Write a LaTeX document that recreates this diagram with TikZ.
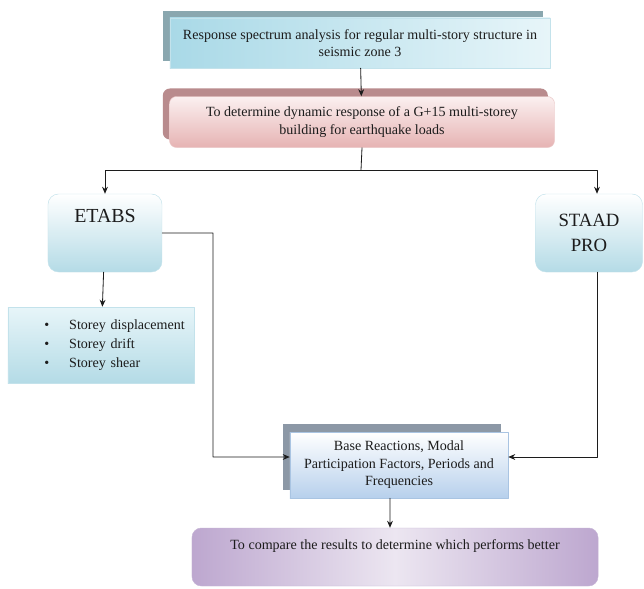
\documentclass[tikz,border=0pt]{standalone}
\usepackage{fontspec}
\setmainfont{Liberation Serif}
\usepackage{tikz}
\usetikzlibrary{arrows.meta,calc,shadows}
\definecolor{flowink}{HTML}{1C1C1C}
\definecolor{tealshade}{HTML}{8AA7AF}
\definecolor{tealdeep}{HTML}{A9D9E7}
\definecolor{tealpale}{HTML}{E7F5F9}
\definecolor{tealedge}{HTML}{C3E2EB}
\definecolor{roseshade}{HTML}{B98B8D}
\definecolor{rosedeep}{HTML}{E6B3B3}
\definecolor{rosepale}{HTML}{FBF0F0}
\definecolor{roseedge}{HTML}{EAC6C6}
\definecolor{skydeep}{HTML}{B4DBE6}
\definecolor{steelshade}{HTML}{8C98A6}
\definecolor{steeldeep}{HTML}{B7D0EC}
\definecolor{steeledge}{HTML}{A9C4E2}
\definecolor{lilacdeep}{HTML}{BDA7CF}
\definecolor{lilacpale}{HTML}{ECE6F1}
\definecolor{lilacedge}{HTML}{C6B4D6}

\begin{document}
\begin{tikzpicture}[x=0.03cm,y=-0.03cm,>={Stealth[length=6pt,width=5pt]},line cap=round,line join=round,
  font=\fontsize{12}{15}\selectfont,text=flowink,
  link/.style={draw=flowink,line width=0.7pt},
  headbox/.style={draw=tealedge,left color=tealdeep,right color=tealpale,
    align=center,
    general shadow={fill=tealshade,shadow xshift=-0.21cm,shadow yshift=0.21cm}},
  aimbox/.style={draw=roseedge,rounded corners=6pt,top color=rosepale,bottom color=rosedeep,
    align=center,
    general shadow={fill=roseshade,shadow xshift=-0.2cm,shadow yshift=0.24cm}},
  toolbox/.style={draw=tealedge,rounded corners=9pt,top color=white,bottom color=skydeep,
    align=center,font=\fontsize{17}{21}\selectfont},
  listbox/.style={draw=tealedge,top color=tealpale,bottom color=skydeep,align=left,
    font=\fontsize{12}{16.2}\selectfont},
  outbox/.style={draw=steeledge,top color=white,bottom color=steeldeep,align=center,
    general shadow={fill=steelshade,shadow xshift=-0.21cm,shadow yshift=0.24cm}},
  endbox/.style={draw=lilacedge,rounded corners=8pt,left color=lilacdeep,right color=lilacdeep,
    middle color=lilacpale,align=center}]
\path[use as bounding box] (0,0) rectangle (644,589);
\fill[white] (0,0) rectangle (644,589);

% boxes
\node[headbox,minimum width=11.4cm,minimum height=1.5cm] (resp) at (360,43)
  {Response spectrum analysis for regular multi-story structure in\\ seismic zone 3};
\node[aimbox,minimum width=11.55cm,minimum height=1.53cm] (goal) at (362,122)
  {To determine dynamic response of a G+15 multi-storey\\ building for earthquake loads};
\node[toolbox,minimum width=3.42cm,inner ysep=0pt,text height=0.84cm,text depth=1.5cm]
  (etabs) at (105,233) {ETABS};
\node[toolbox,minimum width=3.21cm,minimum height=2.34cm,font=\fontsize{16}{21}\selectfont]
  (staad) at (589,233) {STAAD\\ PRO};
\node[listbox,minimum width=5.58cm,minimum height=2.28cm,text width=5.3cm] (effects) at (101,345)
  {\hspace*{0.95cm}\textbullet\hspace{0.6cm}Storey displacement\\
   \hspace*{0.95cm}\textbullet\hspace{0.6cm}Storey drift\\
   \hspace*{0.95cm}\textbullet\hspace{0.6cm}Storey shear};
\node[outbox,minimum width=6.54cm,minimum height=1.98cm] (base) at (399,465)
  {Base Reactions, Modal\\ Participation Factors, Periods and\\ Frequencies};
\node[endbox,minimum width=12.18cm,inner ysep=0pt,text height=0.63cm,text depth=1.11cm]
  (final) at (395,557) {To compare the results to determine which performs better};

% connectors
\coordinate (split) at (361,170);
\draw[link,->] (resp) -- (goal);
\draw[link] (goal.south) -- (split);
\draw[link,->] (split) -| (etabs.north);
\draw[link,->] (split) -| ([xshift=0.24cm]staad.north);
\draw[link,->] (etabs) -- (effects);
\draw[link,->] (etabs.east) -| (213,457) -- ([yshift=0.24cm]base.west);
\draw[link,->] ([xshift=0.24cm]staad.south) |- ([yshift=0.24cm]base.east);
\draw[link,->] ([xshift=-0.27cm]base.south) -- ([xshift=-0.15cm]final.north);
\end{tikzpicture}
\end{document}
